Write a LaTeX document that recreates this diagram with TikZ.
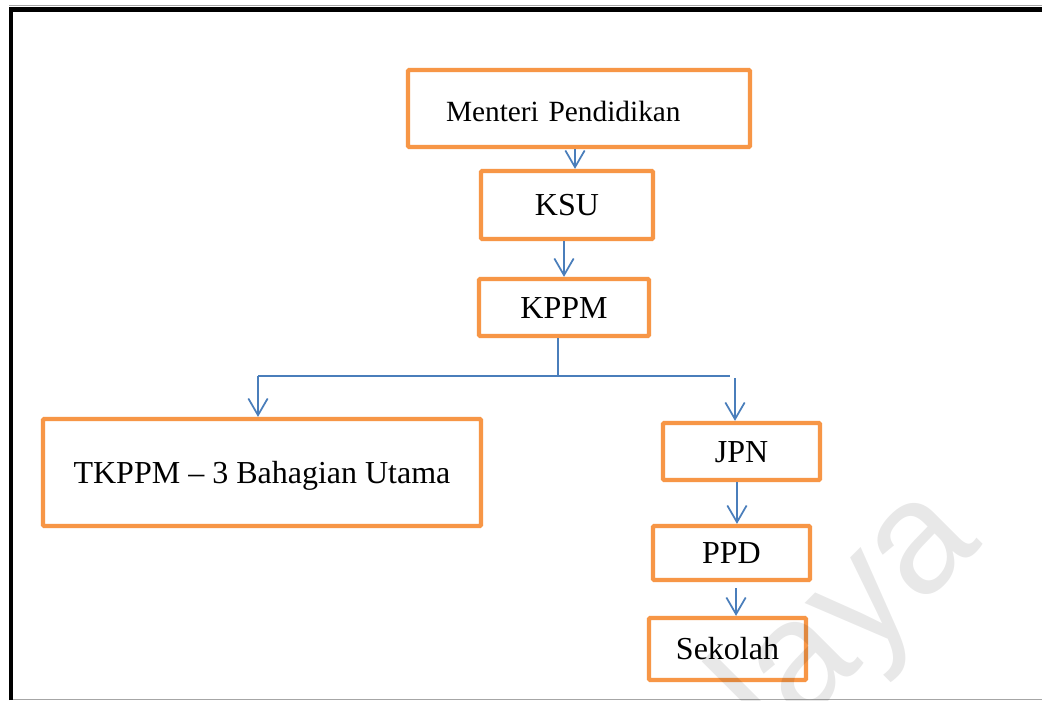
\documentclass[tikz,border=0pt]{standalone}
\usepackage{fontspec}
\setmainfont{Liberation Serif}
\newfontfamily\wmfont{Liberation Sans}
\usetikzlibrary{arrows.meta}
\definecolor{boxorange}{HTML}{F79646}
\definecolor{linkblue}{HTML}{4A7EBB}
\begin{document}
% 1 unit = 1px = 0.75pt, y grows downwards
\begin{tikzpicture}[x=0.75pt,y=-0.75pt,
  orgbox/.style={draw=boxorange, line width=3.2pt, rounded corners=0.8pt,
    fill=white, font=\fontsize{24}{28}\selectfont,
    text height=16.5pt, text depth=0.5pt, inner sep=0pt},
  link/.style={draw=linkblue, line width=1.3pt},
  arr/.style={link, -{Straight Barb[length=12.5pt,width=14.5pt,line width=1.3pt]}},
  frame/.style={line width=3.4pt, black},
  edge/.style={line width=0.8pt, black!35}]
\useasboundingbox (0,0) rectangle (1042,700);
\fill[white] (0,0) rectangle (1042,700);

% page frame
\draw[edge] (9,5.5) -- (1042,5.5);
\draw[edge] (13,699.3) -- (1042,699.3);
\draw[frame] (11,700) -- (11,9.5) -- (1042,9.5);

% boxes
\node[orgbox, minimum width=256.5pt, minimum height=57.75pt,
  text width=199.5pt, align=left, inner xsep=28.5pt,
  font=\fontsize{22}{26}\selectfont, text height=20pt, text depth=0pt]
  (men) at (579,108.5) {Menteri Pendidikan};
\node[orgbox, minimum width=129pt, minimum height=51pt] (ksu) at (567,205) {KSU};
\node[orgbox, minimum width=127.5pt, minimum height=42.75pt] (kppm) at (564,307.5) {KPPM};
\node[orgbox, minimum width=328.5pt, minimum height=80.25pt] (tk) at (262,472.5) {TKPPM -- 3 Bahagian Utama};
\node[orgbox, minimum width=117.75pt, minimum height=42.75pt] (jpn) at (741.5,451.5) {JPN};
\node[orgbox, minimum width=117.75pt, minimum height=40.5pt] (ppd) at (731.5,553) {PPD};
\node[orgbox, minimum width=117.75pt, minimum height=46.5pt] (sek) at (727.5,649) {Sekolah};

% branching points
\coordinate (split) at (558,376);
\coordinate (lt) at (258,376);
\coordinate (rt) at (730,376);
\coordinate (rt2) at (735,378);

% connectors
\draw[arr] ([xshift=-3pt]men.south) -- ([xshift=-3pt]men.south |- ksu.north);
\draw[arr] ([xshift=-2.25pt]ksu.south) -- ([xshift=-2.25pt]ksu.south |- kppm.north);
\draw[link] ([xshift=-4.5pt]kppm.south) -- (split);
\draw[link] (lt) -- (rt);
\draw[arr] (lt) -- (lt |- tk.north);
\draw[arr] (rt2) -- (rt2 |- jpn.north);
\draw[arr] ([xshift=-3.4pt]jpn.south) -- ([xshift=-3.4pt]jpn.south |- ppd.north);
\draw[arr] ([xshift=3.4pt,yshift=-4.5pt]ppd.south) -- ([xshift=3.4pt]ppd.south |- sek.north);

% faint watermark lettering
\begin{scope}
\clip (0,0) rectangle (1042,700);
\node[anchor=base west, rotate=45, inner sep=0pt, text=black, text opacity=0.09,
  font=\wmfont\fontsize{120}{120}\selectfont] (wm) at (776,752) {laya};
\end{scope}
\end{tikzpicture}
\end{document}
